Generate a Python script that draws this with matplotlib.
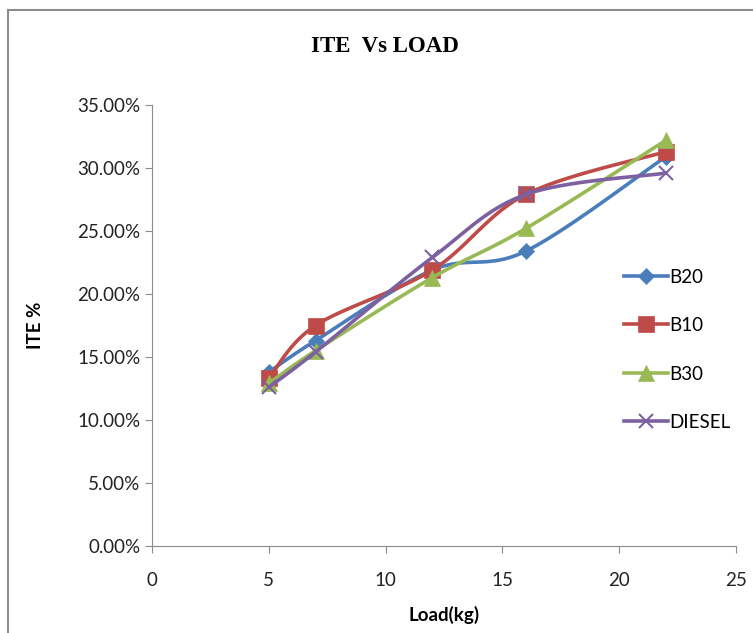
import numpy as np
import matplotlib
matplotlib.use("Agg")
import matplotlib.pyplot as plt
from matplotlib.patches import Rectangle
from matplotlib.ticker import FuncFormatter

load = [5, 7, 12, 16, 22]
b20 = [13.8, 16.3, 21.9, 23.4, 30.9]
b10 = [13.3, 17.5, 21.9, 27.9, 31.3]
b30 = [12.9, 15.5, 21.3, 25.2, 32.2]
diesel = [12.6, 15.4, 22.9, 27.9, 29.6]

series_names = ["B20", "B10", "B30", "DIESEL"]
colors = ["#4A7EBB", "#BE4B48", "#98B954", "#7D60A0"]
markers = ["D", "s", "^", "x"]
msizes = [8, 11, 11, 10]


def smooth(x, y, n=30):
    # Excel-like smoothed line: cubic bezier with catmull-rom control points
    p = np.column_stack([x, y]).astype(float)
    pts = [p[0]]
    for i in range(len(p) - 1):
        p0 = p[i - 1] if i > 0 else p[i]
        p1 = p[i]
        p2 = p[i + 1]
        p3 = p[i + 2] if i + 2 < len(p) else p[i + 1]
        c1 = p1 + (p2 - p0) / 6
        c2 = p2 - (p3 - p1) / 6
        t = np.linspace(0, 1, n)[1:, None]
        seg = ((1 - t) ** 3) * p1 + 3 * ((1 - t) ** 2) * t * c1 + 3 * (1 - t) * t ** 2 * c2 + t ** 3 * p2
        pts.extend(seg)
    pts = np.array(pts)
    return pts[:, 0], pts[:, 1]


fig = plt.figure(figsize=(7.53, 6.33), dpi=100)
fig.patches.append(Rectangle((8 / 753, -0.1), 1.2, 1 - 10 / 633 + 0.1,
                             transform=fig.transFigure, fill=False,
                             edgecolor="#8c8c8c", linewidth=1.5))

ax = fig.add_axes([152 / 753, 1 - 546 / 633, (736 - 152) / 753, (546 - 105) / 633])

for vals, name, c, m, ms in zip([b20, b10, b30, diesel], series_names, colors, markers, msizes):
    sx, sy = smooth(load, vals)
    ax.plot(sx, sy, color=c, linewidth=2.6, solid_capstyle="round")
    ax.plot(load, vals, linestyle="none", marker=m, markersize=ms, color=c,
            markeredgewidth=1.5 if m == "x" else 0.5)
    ax.plot([], [], color=c, linewidth=2.6, marker=m, markersize=ms, label=name,
            markeredgewidth=1.5 if m == "x" else 0.5)

ax.set_xlim(0, 25)
ax.set_ylim(0, 35)
ax.set_xticks(range(0, 26, 5))
ax.set_yticks(range(0, 36, 5))
ax.yaxis.set_major_formatter(FuncFormatter(lambda v, _: f"{v:.2f}%"))

for s in ["top", "right"]:
    ax.spines[s].set_visible(False)
for s in ["left", "bottom"]:
    ax.spines[s].set_color("#8c8c8c")
ax.tick_params(colors="#8c8c8c", labelcolor="#222222", labelsize=13.5, length=5, direction="out")
ax.tick_params(axis="x", pad=14)
for lbl in ax.get_xticklabels() + ax.get_yticklabels():
    lbl.set_family("Lato")

ax.set_xlabel("Load(kg)", fontsize=13.5, fontweight="bold", family="Lato", labelpad=12)
ax.set_ylabel("ITE %", fontsize=13.5, fontweight="bold", family="Lato", labelpad=24)

fig.text(385 / 753, 1 - 46 / 633, "ITE  Vs LOAD", ha="center", va="center",
         fontsize=16.5, fontweight="bold", family="Liberation Serif")

leg = ax.legend(loc="center left", bbox_to_anchor=(0.78, 0.445), frameon=False,
                handlelength=2.3, labelspacing=1.68, handletextpad=0.1,
                prop={"family": "Lato", "size": 13.5})

fig.savefig("out.png", dpi=100)
